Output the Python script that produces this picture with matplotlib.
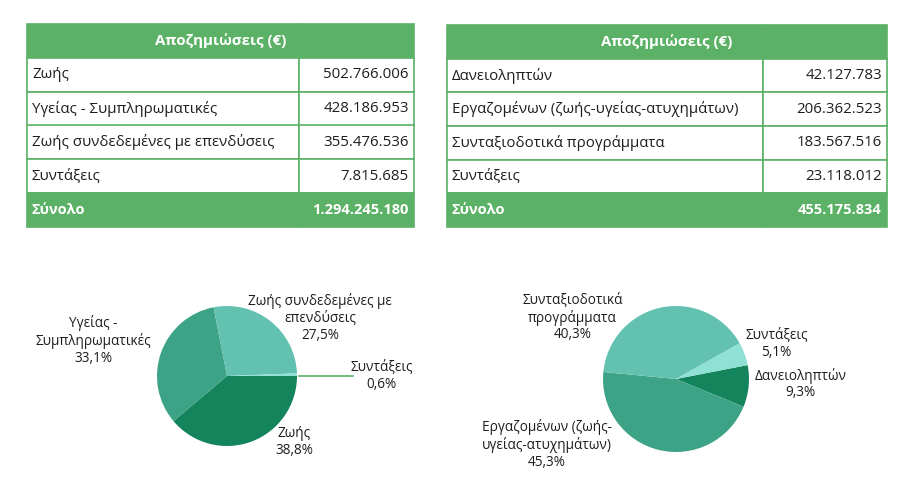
import matplotlib
matplotlib.use("Agg")
import matplotlib.pyplot as plt
from matplotlib.table import Table

plt.rcParams['font.family'] = ['Open Sans', 'DejaVu Sans']

# data
header = "Αποζημιώσεις (€)"
left_labels = ["Ζωής", "Υγείας - Συμπληρωματικές", "Ζωής συνδεδεμένες με επενδύσεις", "Συντάξεις"]
left_values = [502766006, 428186953, 355476536, 7815685]
left_pie_labels = ["Ζωής", "Υγείας -\nΣυμπληρωματικές", "Ζωής συνδεδεμένες με\nεπενδύσεις", "Συντάξεις"]

right_labels = ["Δανειοληπτών", "Εργαζομένων (ζωής-υγείας-ατυχημάτων)", "Συνταξιοδοτικά προγράμματα", "Συντάξεις"]
right_values = [42127783, 206362523, 183567516, 23118012]
right_pie_labels = ["Δανειοληπτών", "Εργαζομένων (ζωής-\nυγείας-ατυχημάτων)", "Συνταξιοδοτικά\nπρογράμματα", "Συντάξεις"]

total_label = "Σύνολο"

GREEN = '#5bb166'
pie_colors = ['#13845b', '#3da386', '#63c1af', '#8fe0d5']
TXT = '#1e1e1e'

W, H = 903, 488
fig = plt.figure(figsize=(W / 100, H / 100), dpi=100)


def px_axes(x0, y0, x1, y1):
    # pixel box (top-left origin) -> figure axes
    return fig.add_axes([x0 / W, 1 - y1 / H, (x1 - x0) / W, (y1 - y0) / H])


def fmt_num(v):
    return f"{v:,}".replace(",", ".")


def fmt_pct(p):
    return f"{p:.1f}%".replace(".", ",")


def draw_table(box, split, labels, values):
    x0, y0, x1, y1 = box
    ax = px_axes(*box)
    ax.axis('off')
    wpx = x1 - x0
    w1 = (split - x0) / wpx
    w2 = 1 - w1
    nrows = len(labels) + 2
    h = 1 / nrows
    tbl = Table(ax, bbox=[0, 0, 1, 1])
    rows = [("", "")] + [(l, fmt_num(v)) for l, v in zip(labels, values)] + \
           [(total_label, fmt_num(sum(values)))]
    for r, (a, b) in enumerate(rows):
        filled = r == 0 or r == nrows - 1
        fc = GREEN if filled else 'white'
        c0 = tbl.add_cell(r, 0, w1, h, text=a, loc='left', facecolor=fc, edgecolor=GREEN)
        c1 = tbl.add_cell(r, 1, w2, h, text=b, loc='right', facecolor=fc, edgecolor=GREEN)
        c0.PAD = 5 / (split - x0)
        c1.PAD = 5 / (x1 - split)
        for c in (c0, c1):
            c.set_linewidth(1.2)
            t = c.get_text()
            t.set_fontsize(10.8)
            if filled:
                t.set_color('white')
                t.set_fontweight('bold')
                t.set_fontsize(10.5)
            else:
                t.set_color(TXT)
    tbl.auto_set_font_size(False)
    ax.add_table(tbl)
    ax.text(0.5, 1 - h / 2, header, transform=ax.transAxes, ha='center', va='center',
            color='white', fontweight='bold', fontsize=10.8)


draw_table((27, 24, 414, 227), 299, left_labels, left_values)
draw_table((447, 25, 887, 227), 763, right_labels, right_values)


def draw_pie(cx, cy, R, values, labels, start, label_pos, leader=None):
    ax = px_axes(cx - R, cy - R, cx + R, cy + R)
    ax.pie(values, colors=pie_colors, startangle=start, counterclock=False,
           radius=1, wedgeprops=dict(linewidth=0))
    ax.set_xlim(-1, 1)
    ax.set_ylim(-1, 1)
    ax.set_aspect('equal')
    ax.axis('off')
    tot = sum(values)
    for v, lab, (lx, ly) in zip(values, labels, label_pos):
        ax.text(lx, ly, f"{lab}\n{fmt_pct(100 * v / tot)}", ha='center', va='center',
                fontsize=9.8, color=TXT, linespacing=1.15, clip_on=False)
    if leader:
        (xa, xb, y) = leader
        ax.plot([xa, xb], [y, y], color=GREEN, lw=1.2, clip_on=False)


draw_pie(227, 376, 70, left_values, left_pie_labels, 0,
         [(0.96, -0.94), (-1.91, 0.51), (1.33, 0.83), (2.21, 0.0)],
         leader=(1.03, 1.8, 0.0))
draw_pie(676, 379, 73, right_values, right_pie_labels, 11,
         [(1.71, -0.07), (-1.77, -0.9), (-1.42, 0.84), (1.38, 0.48)])

fig.savefig("out.png", dpi=100)
